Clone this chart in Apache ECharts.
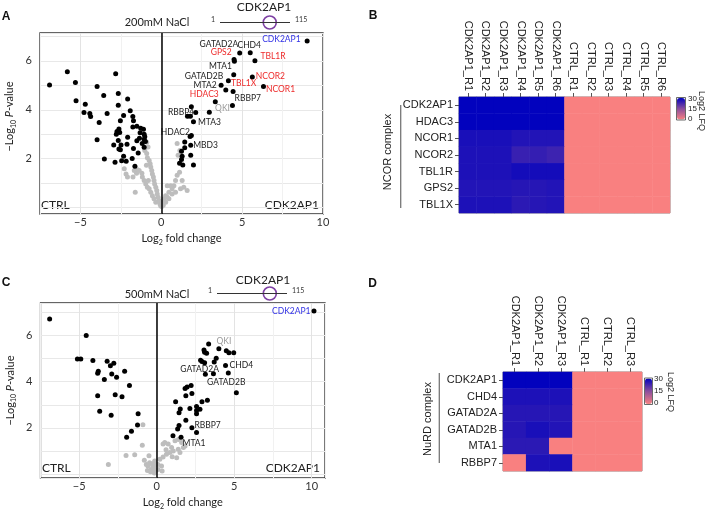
<!DOCTYPE html>
<html><head><meta charset="utf-8">
<script src="https://cdn.jsdelivr.net/npm/echarts@6/dist/echarts.min.js"></script>
<style>html,body{margin:0;padding:0;background:#fff}#c{width:709px;height:511px}</style>
</head><body><div id="c"></div>
<script>
// ---------------- DATA ----------------
// Panel A (200mM NaCl) volcano: [log2FC, -log10 p]
const blackA = [[-5.81,5.56],[-6.91,5.01],[-5.31,5.12],[-2.82,5.47],[-3.97,4.95],[-5.27,4.37],[-3.56,4.58],[-2.66,4.67],[-4.70,4.23],[-2.66,4.19],[-2.08,4.44],[-4.78,3.89],[-4.42,3.85],[-4.37,3.73],[-3.35,3.85],[-1.92,3.96],[-2.33,3.77],[-1.76,3.73],[-2.53,3.55],[-3.84,3.48],[-1.72,3.55],[-1.51,3.33],[-1.76,3.30],[-1.27,3.25],[-1.10,3.21],[-2.62,3.22],[-2.74,3.11],[-2.57,3.07],[-2.78,3.00],[-1.31,3.06],[-1.06,3.00],[-1.02,2.90],[-2.08,2.88],[-1.35,2.84],[-1.06,2.79],[-0.98,2.70],[-3.97,2.78],[-2.66,2.75],[-1.51,2.73],[-2.49,2.56],[-2.94,2.56],[-2.12,2.59],[-1.18,2.62],[-2.62,2.40],[-2.53,2.37],[-1.72,2.42],[-1.06,2.47],[-1.43,2.23],[-3.52,1.99],[-2.33,2.10],[-2.45,1.92],[-2.17,1.90],[-1.80,2.01],[-2.86,1.86],[-1.63,1.69],
  [3.99,4.81],[2.97,3.90],[1.86,4.12],[1.62,3.74],[1.80,3.74],[1.78,2.91],[1.45,2.68],[1.45,2.45],[1.25,2.31],[1.82,2.14],[1.29,2.10],[1.25,1.97],[1.13,1.81],[1.33,1.74],[1.99,1.74]];
const greyA = [[-1.02,2.34],[-0.90,2.21],[-0.86,2.04],[-0.75,1.93],[-0.69,1.79],[-0.65,1.66],[-0.59,1.52],[-0.55,1.38],[-0.49,1.25],[-0.45,1.11],[-0.41,0.97],[-0.34,0.83],[-0.28,0.70],[-0.25,0.56],[-0.20,0.42],[-0.14,0.29],[-0.08,0.15],[-0.04,0.08],[-2.29,1.59],[-2.18,1.38],[-2.09,1.25],[-1.67,1.52],[-1.53,1.41],[-1.37,1.52],[-1.20,1.41],[-1.17,1.25],[-1.06,1.11],[-0.96,0.97],[-0.86,0.83],[-0.75,0.77],[-1.61,0.63],[-0.65,0.63],[-0.55,0.49],[-0.45,0.36],[-0.34,0.22],[-0.80,1.11],[-0.92,1.73],[-0.90,2.67],[-0.82,2.48],[-1.75,1.25],[-1.47,1.55],
  [0.98,2.62],[1.15,2.34],[1.04,2.14],[1.13,1.45],[0.98,1.32],[0.88,1.11],[0.78,0.90],[0.67,0.77],[0.47,0.63],[0.27,0.49],[0.17,0.36],[0.06,0.22],[0.67,0.56],[0.88,0.63],[1.19,0.77],[1.39,0.83],[1.60,0.70],[0.37,0.42],[0.58,0.90],[1.29,1.11],[0.27,0.22],[0.47,0.36],[0.37,0.90],[0.02,0.05],[0.12,0.10]];
const labeledA = [['CDK2AP1',9.02,6.81],['GATAD2A',4.85,6.32],['CHD4',5.50,6.33],['TBL1R',5.79,6.01],['GPS2',4.50,6.06],['MTA1',4.52,5.99],['GATAD2B',4.48,5.43],['NCOR2',5.63,5.34],['TBL1X',4.15,5.19],['MTA2',3.70,5.00],['NCOR1',6.32,4.95],['HDAC3',3.34,4.33],['RBBP7',4.44,4.75],['QKI',4.40,4.18],['RBBP4',2.13,3.89],['MTA3',1.99,3.51],['HDAC2',1.86,2.95],['MBD3',1.82,2.55]];

// Panel C (500mM NaCl) volcano
const blackC = [[-6.91,6.72],[-4.55,6.00],[-5.12,4.98],[-4.90,4.98],[-4.12,4.92],[-3.20,4.89],[-2.77,4.80],[-2.99,4.69],[-3.77,4.45],[-3.81,4.37],[-2.07,4.45],[-2.90,4.34],[-2.59,4.19],[-3.38,4.10],[-1.76,3.84],[-3.81,3.39],[-2.68,3.44],[-2.24,3.35],[-3.68,2.72],[-2.94,2.55],[-1.20,2.61],[-1.24,2.13],[-1.63,1.86],[-1.94,1.60],
  [3.35,5.63],[3.05,5.37],[3.09,5.28],[3.22,5.23],[4.49,5.34],[4.66,5.25],[4.97,5.25],[2.83,4.93],[2.92,4.88],[3.09,4.82],[3.84,5.02],[3.71,4.85],[3.14,4.32],[5.14,3.52],[1.83,3.71],[1.96,3.77],[2.22,3.84],[2.27,3.49],[1.88,3.39],[1.22,3.13],[2.92,3.13],[3.27,3.20],[1.52,2.82],[1.44,2.66],[2.14,2.84],[2.57,2.93],[2.57,2.75],[2.57,2.61],[2.79,2.81],[1.88,2.33],[1.44,2.10],[1.35,1.95],[2.57,1.80],[1.05,1.66]];
const greyC = [[-0.89,2.14],[-0.93,1.25],[-1.98,0.80],[-1.42,0.84],[-3.12,0.41],[-0.50,0.79],[-0.80,0.60],[-0.67,0.42],[-0.46,0.49],[-0.24,0.35],[-0.35,0.20],[-0.18,0.28],[-0.57,0.35],[-0.60,0.15],[-0.40,0.10],[-0.10,0.12],[-0.30,0.45],[-0.15,0.05],
  [0.52,1.37],[0.74,1.30],[1.18,1.44],[1.61,1.37],[1.72,1.15],[1.39,1.08],[1.07,1.00],[0.85,0.93],[0.63,0.86],[0.41,0.74],[0.20,0.64],[1.50,0.93],[1.83,1.22],[-0.02,0.42],[0.31,0.35],[0.08,0.20],[-0.13,0.57],[0.96,1.15],[1.29,0.71],[-0.24,0.28],[0.35,0.13],[0.08,0.42],[0.41,1.30],[1.40,1.50],[0.60,1.05],[1.00,0.75]];
const labeledC = [['CDK2AP1',10.15,7.06],['QKI',4.01,5.43],['CHD4',4.44,4.70],['GATAD2A',3.66,4.35],['GATAD2B',4.62,4.38],['RBBP7',2.27,2.01],['MTA1',1.57,1.60]];

// Protein schematic: length and highlighted site position (A, C)
const proteinLen = 115;
const sitePos = [82, 87];

// Panel B heatmap (NCOR complex), Log2 LFQ
const colsB = ['CDK2AP1_R1','CDK2AP1_R2','CDK2AP1_R3','CDK2AP1_R4','CDK2AP1_R5','CDK2AP1_R6','CTRL_R1','CTRL_R2','CTRL_R3','CTRL_R4','CTRL_R5','CTRL_R6'];
const rowsB = ['CDK2AP1','HDAC3','NCOR1','NCOR2','TBL1R','GPS2','TBL1X'];
const valsB = [
  [30,30,30,30,30,30,0,0,0,0,0,0],
  [30,30,30,30,30,30,0,0,0,0,0,0],
  [27.5,27.5,27.5,26.5,26.5,26.5,0,0,0,0,0,0],
  [27,27,27,24,24.5,23.5,0,0,0,0,0,0],
  [27,27,27,28,28,28,0,0,0,0,0,0],
  [26.5,26.5,26.5,26,26,26.5,0,0,0,0,0,0],
  [27,27,27,25.5,26,26.5,0,0,0,0,0,0]];
// Panel D heatmap (NuRD complex)
const colsD = ['CDK2AP1_R1','CDK2AP1_R2','CDK2AP1_R3','CTRL_R1','CTRL_R2','CTRL_R3'];
const rowsD = ['CDK2AP1','CHD4','GATAD2A','GATAD2B','MTA1','RBBP7'];
const valsD = [
  [30,30,30,0,0,0],
  [27,27,27,0,0,0],
  [26,26,26,0,0,0],
  [26,27.5,26.5,0,0,0],
  [25.5,25.5,0,0,0,0],
  [0,27,27.5,0,0,0]];
const colorbarTicks = ['30','15','0'];

// ---------------- STYLE ----------------
const FONT = 'Lato, "Open Sans", sans-serif';
const AFONT = '"Liberation Sans", Arial, sans-serif';
const RED = '#EE2B2B', BLUE = '#3232E6', GREYTXT = '#9A9A9A';
const labelColor = {CDK2AP1:BLUE, GPS2:RED, TBL1R:RED, NCOR2:RED, TBL1X:RED, NCOR1:RED, HDAC3:RED, QKI:GREYTXT};
const labelPosA = {CDK2AP1:['left',[1,-2]], GATAD2A:['left',[6,-9]], CHD4:['top',[-1,4]], TBL1R:['right',[-2,-4]], GPS2:['left',[5,-7]], MTA1:['left',[5,5]], GATAD2B:['left',[-3,1]], NCOR2:['right',[-4,-1]], TBL1X:['right',[-5,3]], MTA2:['left',[3,0]], NCOR1:['right',[-5,3]], HDAC3:['left',[11,-7]], RBBP7:['right',[-6,7]], QKI:['left',[5,3]], RBBP4:['left',[6,0]], MTA3:['right',[-3,0]], HDAC2:['left',[6,-3]], MBD3:['right',[-5,0]]};
const labelPosC = {CDK2AP1:['left',[4,0]], QKI:['top',[5,5]], CHD4:['right',[-3.5,0]], GATAD2A:['left',[13,-4]], GATAD2B:['bottom',[-2,-3]], RBBP7:['right',[-5,-2]], MTA1:['right',[-6,6]]};

function labeledItems(list, posMap){
  return list.map(([name,x,y]) => ({
    name, value:[x,y],
    label:{show:true, formatter:name, position:posMap[name][0], offset:posMap[name][1],
      color:labelColor[name]||'#222', fontSize:8.5, fontFamily:FONT}
  }));
}
function heatData(vals){ const d=[]; vals.forEach((row,r)=>row.forEach((v,c)=>d.push([c,r,v]))); return d; }

const fmtX = v => { if (Math.abs(v % 5) > 1e-9) return ''; return v < 0 ? '\u2212' + (-v) : String(v); };
const fmtY = v => { const r = Math.round(v*1000)/1000; return (r===2||r===4||r===6) ? String(r) : ''; };

const axisNameRich = {
  t:{fontSize:11, fontFamily:FONT, color:'#222', lineHeight:15, verticalAlign:'middle'},
  s:{fontSize:7, fontFamily:FONT, color:'#222', lineHeight:15, verticalAlign:'bottom'},
  i:{fontSize:11, fontFamily:FONT, color:'#222', lineHeight:15, fontStyle:'italic', verticalAlign:'middle'}
};

function volX(grid, min, max){
  return {gridIndex:grid, type:'value', min, max, interval:2.5,
    axisLine:{show:false}, axisTick:{show:false},
    axisLabel:{formatter:fmtX, fontSize:11, fontFamily:FONT, color:'#333', margin:3},
    splitLine:{show:true, lineStyle:{color:['#f1f1f1','#e3e3e3'], width:1}},
    name:'{t|Log}{s|2}{t| fold change}', nameLocation:'middle', nameGap:17,
    nameTextStyle:{rich:axisNameRich}};
}
function volY(grid, min, max, pad){
  return {gridIndex:grid, type:'value', min, max, splitNumber:7,
    axisLine:{show:false}, axisTick:{show:false},
    axisLabel:{formatter:fmtY, fontSize:11, fontFamily:FONT, color:'#333', margin:8},
    splitLine:{show:true, lineStyle:{color:'#e8e8e8', width:1}},
    name:'{t|\u2212Log}{s|10}{i| P}{t|-value}', nameLocation:'middle', nameGap:23,
    nameTextStyle:{rich:axisNameRich, padding:[0,0,0,pad]}};
}
function heatX(grid, data){
  return {gridIndex:grid, type:'category', data, position:'top',
    axisLine:{show:false}, splitLine:{show:false},
    axisTick:{show:true, alignWithLabel:true, length:4, lineStyle:{color:'#555'}},
    axisLabel:{rotate:90, fontSize:11, fontFamily:AFONT, color:'#222', margin:6, interval:0}};
}
function heatY(grid, data){
  return {gridIndex:grid, type:'category', data, inverse:true,
    axisLine:{show:false}, splitLine:{show:false},
    axisTick:{show:true, alignWithLabel:true, length:4, lineStyle:{color:'#555'}},
    axisLabel:{fontSize:11, fontFamily:AFONT, color:'#222', margin:6, interval:0}};
}
const hidden = (grid, min, max) => ({gridIndex:grid, type:'value', min, max, show:false});

const zeroLine = {silent:true, symbol:'none', label:{show:false}, animation:false,
  lineStyle:{color:'#000', width:1.5, type:'solid'}, data:[{xAxis:0}]};

function txt(x, y, text, o){ return {type:'text', x, y, silent:true, style:Object.assign({text, fill:'#222', fontSize:11, fontFamily:FONT, align:'center', verticalAlign:'middle'}, o||{})}; }
function vline(x, y1, y2){ return {type:'line', silent:true, shape:{x1:x, y1, x2:x, y2}, style:{stroke:'#777', lineWidth:1.3}}; }
function rect(x, y, w, h){ return {type:'rect', silent:true, shape:{x, y, width:w, height:h}, style:{fill:'none', stroke:'#444', lineWidth:0.8}, z:100}; }

const schematic = (xi, pos) => ([
  {type:'line', xAxisIndex:xi, yAxisIndex:xi, silent:true, animation:false,
   symbol:'circle', symbolSize:0.1, showSymbol:true, lineStyle:{color:'#333', width:1},
   data:[{value:[1,0], label:{show:true, formatter:'1', position:'left', offset:[0,-3], fontSize:7, fontFamily:FONT, color:'#333'}},
         {value:[proteinLen,0], label:{show:true, formatter:String(proteinLen), position:'right', offset:[0,-3], fontSize:7, fontFamily:FONT, color:'#333'}}]},
  {type:'scatter', xAxisIndex:xi, yAxisIndex:xi, silent:true, animation:false, symbolSize:13,
   itemStyle:{color:'#fff', borderColor:'#7D3FA3', borderWidth:1.6, opacity:1}, data:[[pos,0]]}
]);

const option = {
  animation:false,
  backgroundColor:'#fff',
  grid:[
    {left:40, top:33, width:283, height:181, show:true, borderColor:'#333', borderWidth:1.3, outerBoundsMode:'none'},
    {left:459, top:97, width:211, height:116, show:true, borderColor:'#888', borderWidth:1, outerBoundsMode:'none'},
    {left:40.5, top:303, width:284.5, height:175, show:true, borderColor:'#333', borderWidth:1.3, outerBoundsMode:'none'},
    {left:503, top:372, width:139, height:99, show:true, borderColor:'#888', borderWidth:1, outerBoundsMode:'none'},
    {left:220, top:17, width:70, height:11, outerBoundsMode:'none'},
    {left:217, top:288, width:70, height:11, outerBoundsMode:'none'}
  ],
  xAxis:[volX(0,-7.5,10), heatX(1,colsB), volX(2,-7.5,10.86), heatX(3,colsD), hidden(4,1,proteinLen), hidden(5,1,proteinLen)],
  yAxis:[volY(0,-0.26,7.14,14), heatY(1,rowsB), volY(2,-0.17,7.41,0), heatY(3,rowsD), hidden(4,-1,1), hidden(5,-1,1)],
  visualMap:[
    {type:'continuous', seriesIndex:4, min:0, max:30, orient:'vertical', left:677, top:98, itemWidth:8, itemHeight:21.5,
     padding:0, calculable:false, showLabel:false, text:null, hoverLink:false,
     inRange:{color:['#F98080','#8A4E9E','#0202BE']}},
    {type:'continuous', seriesIndex:5, min:0, max:30, orient:'vertical', left:645, top:378.5, itemWidth:7, itemHeight:25.5,
     padding:0, calculable:false, showLabel:false, text:null, hoverLink:false,
     inRange:{color:['#F98080','#8A4E9E','#0202BE']}}
  ],
  series:[
    {type:'scatter', xAxisIndex:0, yAxisIndex:0, symbolSize:5, itemStyle:{color:'#BDBDBD', opacity:1}, data:greyA, markLine:zeroLine, silent:true},
    {type:'scatter', xAxisIndex:0, yAxisIndex:0, symbolSize:5, itemStyle:{color:'#000', opacity:1}, data:blackA.concat(labeledItems(labeledA, labelPosA)), silent:true},
    {type:'scatter', xAxisIndex:2, yAxisIndex:2, symbolSize:5, itemStyle:{color:'#BDBDBD', opacity:1}, data:greyC, markLine:zeroLine, silent:true},
    {type:'scatter', xAxisIndex:2, yAxisIndex:2, symbolSize:5, itemStyle:{color:'#000', opacity:1}, data:blackC.concat(labeledItems(labeledC, labelPosC)), silent:true},
    {type:'heatmap', xAxisIndex:1, yAxisIndex:1, data:heatData(valsB), silent:true, itemStyle:{borderWidth:0}},
    {type:'heatmap', xAxisIndex:3, yAxisIndex:3, data:heatData(valsD), silent:true, itemStyle:{borderWidth:0}},
    ...schematic(4, sitePos[0]),
    ...schematic(5, sitePos[1])
  ],
  graphic:[
    txt(6,16.5,'A',{fontWeight:'bold', fontSize:12, fontFamily:AFONT, fill:'#111'}),
    txt(373,15.5,'B',{fontWeight:'bold', fontSize:12, fontFamily:AFONT, fill:'#111'}),
    txt(6,283,'C',{fontWeight:'bold', fontSize:12, fontFamily:AFONT, fill:'#111'}),
    txt(372.5,284,'D',{fontWeight:'bold', fontSize:12, fontFamily:AFONT, fill:'#111'}),
    txt(157,22.5,'200mM NaCl'),
    txt(157,294,'500mM NaCl'),
    txt(264,7,'CDK2AP1',{fontSize:12}),
    txt(263,280.5,'CDK2AP1',{fontSize:12}),
    txt(41,205,'CTRL',{fontSize:12, align:'left'}),
    txt(319,205,'CDK2AP1',{fontSize:12, align:'right'}),
    txt(42,468.5,'CTRL',{fontSize:12, align:'left'}),
    txt(320,468.5,'CDK2AP1',{fontSize:12, align:'right'}),
    txt(688,98.5,colorbarTicks[0],{fontSize:8, fontFamily:AFONT, align:'left'}),
    txt(688,109,colorbarTicks[1],{fontSize:8, fontFamily:AFONT, align:'left'}),
    txt(688,119,colorbarTicks[2],{fontSize:8, fontFamily:AFONT, align:'left'}),
    txt(654,378.5,colorbarTicks[0],{fontSize:8, fontFamily:AFONT, align:'left'}),
    txt(654,391,colorbarTicks[1],{fontSize:8, fontFamily:AFONT, align:'left'}),
    txt(654,403,colorbarTicks[2],{fontSize:8, fontFamily:AFONT, align:'left'}),
    Object.assign(txt(701.5,111,'Log2 LFQ',{fontSize:9, fontFamily:AFONT}), {rotation:-Math.PI/2}),
    Object.assign(txt(670,392,'Log2 LFQ',{fontSize:9, fontFamily:AFONT}), {rotation:-Math.PI/2}),
    Object.assign(txt(388,152,'NCOR complex',{fontSize:11, fontFamily:AFONT}), {rotation:Math.PI/2}),
    Object.assign(txt(427.5,419,'NuRD complex',{fontSize:11, fontFamily:AFONT}), {rotation:Math.PI/2}),
    vline(400.7,105,208),
    vline(439.3,373,463),
    rect(676.5,97.5,9,22.5),
    rect(644.5,378,8,26.5)
  ]
};
const chart = echarts.init(document.getElementById('c'), null, {renderer:'canvas'});
chart.setOption(option);
</script></body></html>
